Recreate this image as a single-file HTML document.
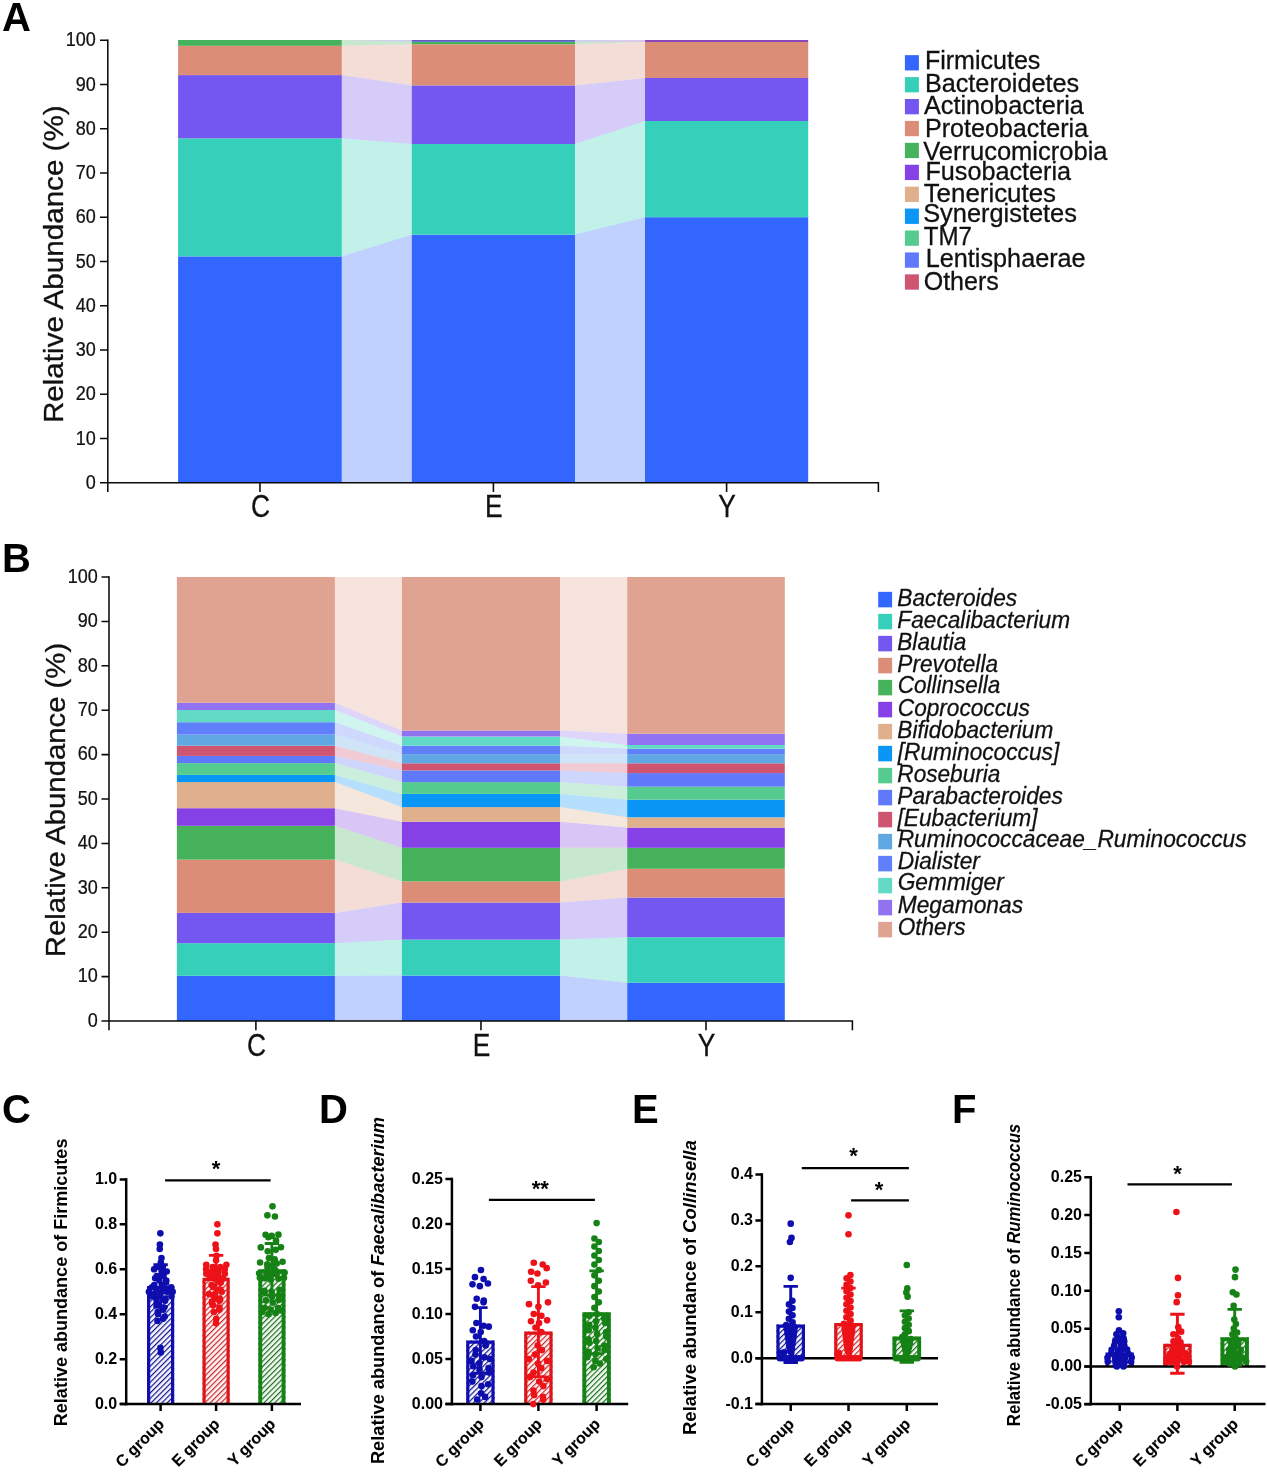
<!DOCTYPE html>
<html lang="en"><head><meta charset="utf-8"><title>Figure: gut microbiota composition</title>
<style>html,body{margin:0;padding:0;background:#fff}svg{display:block}text{font-family:"Liberation Sans",sans-serif}</style>
</head><body>
<svg width="1267" height="1472" viewBox="0 0 1267 1472">
<rect width="1267" height="1472" fill="#fff"/>
<g id="panelA">
<path d="M341.8 482.8L411.8 482.8L411.8 234.6L341.8 256.4Z" fill="#3366FF" fill-opacity="0.3"/>
<path d="M341.8 256.4L411.8 234.6L411.8 144L341.8 138.3Z" fill="#36D0BA" fill-opacity="0.3"/>
<path d="M341.8 138.3L411.8 144L411.8 85.4L341.8 75.1Z" fill="#7357F0" fill-opacity="0.3"/>
<path d="M341.8 75.1L411.8 85.4L411.8 44.3L341.8 45.8Z" fill="#DB8D77" fill-opacity="0.3"/>
<path d="M341.8 45.8L411.8 44.3L411.8 41.8L341.8 40Z" fill="#47B25C" fill-opacity="0.3"/>
<path d="M341.8 40L411.8 41.8L411.8 40L341.8 40Z" fill="#5C5CC4" fill-opacity="0.3"/>
<path d="M575 482.8L645 482.8L645 217.2L575 234.6Z" fill="#3366FF" fill-opacity="0.3"/>
<path d="M575 234.6L645 217.2L645 121L575 144Z" fill="#36D0BA" fill-opacity="0.3"/>
<path d="M575 144L645 121L645 78L575 85.4Z" fill="#7357F0" fill-opacity="0.3"/>
<path d="M575 85.4L645 78L645 42L575 44.3Z" fill="#DB8D77" fill-opacity="0.3"/>
<path d="M575 44.3L645 42L645 42L575 41.8Z" fill="#47B25C" fill-opacity="0.3"/>
<path d="M575 41.8L645 42L645 40L575 41.8Z" fill="#8B48B8" fill-opacity="0.3"/>
<path d="M575 41.8L645 40L645 40L575 40Z" fill="#5C5CC4" fill-opacity="0.3"/>
<rect x="178.1" y="256.4" width="163.7" height="226.4" fill="#3366FF"/>
<rect x="178.1" y="138.3" width="163.7" height="118.1" fill="#36D0BA"/>
<rect x="178.1" y="75.1" width="163.7" height="63.2" fill="#7357F0"/>
<rect x="178.1" y="45.8" width="163.7" height="29.3" fill="#DB8D77"/>
<rect x="178.1" y="40" width="163.7" height="5.8" fill="#47B25C"/>
<rect x="411.8" y="234.6" width="163.2" height="248.2" fill="#3366FF"/>
<rect x="411.8" y="144" width="163.2" height="90.6" fill="#36D0BA"/>
<rect x="411.8" y="85.4" width="163.2" height="58.6" fill="#7357F0"/>
<rect x="411.8" y="44.3" width="163.2" height="41.1" fill="#DB8D77"/>
<rect x="411.8" y="41.8" width="163.2" height="2.5" fill="#47B25C"/>
<rect x="411.8" y="40" width="163.2" height="1.8" fill="#5C5CC4"/>
<rect x="645" y="217.2" width="163.2" height="265.6" fill="#3366FF"/>
<rect x="645" y="121" width="163.2" height="96.2" fill="#36D0BA"/>
<rect x="645" y="78" width="163.2" height="43" fill="#7357F0"/>
<rect x="645" y="42" width="163.2" height="36" fill="#DB8D77"/>
<rect x="645" y="40" width="163.2" height="2" fill="#8B48B8"/>
<g stroke="#0a0a0a" stroke-width="1.55" fill="none">
<path d="M107.8 39.5V492"/>
<path d="M100 482.8H878.4V492"/>
<path d="M100 438.54H107.8M100 394.28H107.8M100 350.02H107.8M100 305.76H107.8M100 261.5H107.8M100 217.24H107.8M100 172.98H107.8M100 128.72H107.8M100 84.46H107.8M100 40.2H107.8M259.95 482.8V492M493.4 482.8V492M726.6 482.8V492"/>
</g>
<g font-size="20.4" text-anchor="end" fill="#111" stroke="#111" stroke-width="0.25">
<text transform="translate(95.8 489) scale(0.885 1)">0</text>
<text transform="translate(95.8 444.74) scale(0.885 1)">10</text>
<text transform="translate(95.8 400.48) scale(0.885 1)">20</text>
<text transform="translate(95.8 356.22) scale(0.885 1)">30</text>
<text transform="translate(95.8 311.96) scale(0.885 1)">40</text>
<text transform="translate(95.8 267.7) scale(0.885 1)">50</text>
<text transform="translate(95.8 223.44) scale(0.885 1)">60</text>
<text transform="translate(95.8 179.18) scale(0.885 1)">70</text>
<text transform="translate(95.8 134.92) scale(0.885 1)">80</text>
<text transform="translate(95.8 90.66) scale(0.885 1)">90</text>
<text transform="translate(95.8 46.4) scale(0.885 1)">100</text>
</g>
<g font-size="31" text-anchor="middle" fill="#111" stroke="#111" stroke-width="0.3">
<text transform="translate(260.45 517.2) scale(0.85 1)">C</text>
<text transform="translate(493.9 517.2) scale(0.85 1)">E</text>
<text transform="translate(727.1 517.2) scale(0.85 1)">Y</text>
</g>
<text transform="translate(62.8 264.2) rotate(-90) scale(1.0509 1)" font-size="28.2" text-anchor="middle" fill="#111" stroke="#111" stroke-width="0.3">Relative Abundance (%)</text>
<text x="2" y="30.8" font-size="40" font-weight="bold" fill="#000">A</text>
<g font-size="25.5" fill="#111" stroke="#111" stroke-width="0.3">
<rect x="904.9" y="55.15" width="14" height="15.3" fill="#3366FF" stroke="none"/>
<text transform="translate(924.89 68.6) scale(0.9828 1)">Firmicutes</text>
<rect x="904.9" y="77.07" width="14" height="15.3" fill="#36D0BA" stroke="none"/>
<text transform="translate(924.89 91.7) scale(0.9895 1)">Bacteroidetes</text>
<rect x="904.9" y="98.99" width="14" height="15.3" fill="#7357F0" stroke="none"/>
<text transform="translate(924.02 113.8) scale(0.9894 1)">Actinobacteria</text>
<rect x="904.9" y="120.91" width="14" height="15.3" fill="#DB8D77" stroke="none"/>
<text transform="translate(924.89 136.9) scale(0.9845 1)">Proteobacteria</text>
<rect x="904.9" y="142.83" width="14" height="15.3" fill="#47B25C" stroke="none"/>
<text transform="translate(923.15 159.8) scale(1.0011 1)">Verrucomicrobia</text>
<rect x="904.9" y="164.75" width="14" height="15.3" fill="#8540E6" stroke="none"/>
<text transform="translate(925.41 179.8) scale(0.9888 1)">Fusobacteria</text>
<rect x="904.9" y="186.67" width="14" height="15.3" fill="#E0B08C" stroke="none"/>
<text transform="translate(923.67 201.8) scale(1.0151 1)">Tenericutes</text>
<rect x="904.9" y="208.59" width="14" height="15.3" fill="#0A96F5" stroke="none"/>
<text transform="translate(923.15 222.3) scale(0.9953 1)">Synergistetes</text>
<rect x="904.9" y="230.51" width="14" height="15.3" fill="#55CB8F" stroke="none"/>
<text transform="translate(923.67 245.2) scale(0.9451 1)">TM7</text>
<rect x="904.9" y="252.43" width="14" height="15.3" fill="#6078FA" stroke="none"/>
<text transform="translate(925.76 266.6) scale(0.9894 1)">Lentisphaerae</text>
<rect x="904.9" y="274.35" width="14" height="15.3" fill="#CE5470" stroke="none"/>
<text transform="translate(923.67 289.7) scale(0.9817 1)">Others</text>
</g>
</g>
<g id="panelB">
<path d="M334.9 1021L401.9 1021L401.9 975.6L334.9 975.8Z" fill="#3366FF" fill-opacity="0.3"/>
<path d="M334.9 975.8L401.9 975.6L401.9 939.6L334.9 943.2Z" fill="#36D0BA" fill-opacity="0.3"/>
<path d="M334.9 943.2L401.9 939.6L401.9 902.6L334.9 912.9Z" fill="#7357F0" fill-opacity="0.3"/>
<path d="M334.9 912.9L401.9 902.6L401.9 881.4L334.9 859.6Z" fill="#DB8D77" fill-opacity="0.3"/>
<path d="M334.9 859.6L401.9 881.4L401.9 847.8L334.9 825.8Z" fill="#47B25C" fill-opacity="0.3"/>
<path d="M334.9 825.8L401.9 847.8L401.9 821.7L334.9 808.2Z" fill="#8540E6" fill-opacity="0.3"/>
<path d="M334.9 808.2L401.9 821.7L401.9 807.1L334.9 782.1Z" fill="#E0B08C" fill-opacity="0.3"/>
<path d="M334.9 782.1L401.9 807.1L401.9 793.9L334.9 774.9Z" fill="#0A96F5" fill-opacity="0.3"/>
<path d="M334.9 774.9L401.9 793.9L401.9 782.1L334.9 763.1Z" fill="#55CB8F" fill-opacity="0.3"/>
<path d="M334.9 763.1L401.9 782.1L401.9 770.4L334.9 755.9Z" fill="#6078FA" fill-opacity="0.3"/>
<path d="M334.9 755.9L401.9 770.4L401.9 763.3L334.9 745.7Z" fill="#CE5470" fill-opacity="0.3"/>
<path d="M334.9 745.7L401.9 763.3L401.9 754.1L334.9 734.6Z" fill="#5FA8E4" fill-opacity="0.3"/>
<path d="M334.9 734.6L401.9 754.1L401.9 745.7L334.9 722.2Z" fill="#5F80FA" fill-opacity="0.3"/>
<path d="M334.9 722.2L401.9 745.7L401.9 736.5L334.9 710Z" fill="#62DAC6" fill-opacity="0.3"/>
<path d="M334.9 710L401.9 736.5L401.9 730.5L334.9 702.8Z" fill="#9173F2" fill-opacity="0.3"/>
<path d="M334.9 702.8L401.9 730.5L401.9 577L334.9 577Z" fill="#E0A391" fill-opacity="0.3"/>
<path d="M560 1021L627.2 1021L627.2 982.8L560 975.6Z" fill="#3366FF" fill-opacity="0.3"/>
<path d="M560 975.6L627.2 982.8L627.2 937.2L560 939.6Z" fill="#36D0BA" fill-opacity="0.3"/>
<path d="M560 939.6L627.2 937.2L627.2 897.5L560 902.6Z" fill="#7357F0" fill-opacity="0.3"/>
<path d="M560 902.6L627.2 897.5L627.2 868.8L560 881.4Z" fill="#DB8D77" fill-opacity="0.3"/>
<path d="M560 881.4L627.2 868.8L627.2 847.8L560 847.8Z" fill="#47B25C" fill-opacity="0.3"/>
<path d="M560 847.8L627.2 847.8L627.2 827.6L560 821.7Z" fill="#8540E6" fill-opacity="0.3"/>
<path d="M560 821.7L627.2 827.6L627.2 817.3L560 807.1Z" fill="#E0B08C" fill-opacity="0.3"/>
<path d="M560 807.1L627.2 817.3L627.2 799.7L560 793.9Z" fill="#0A96F5" fill-opacity="0.3"/>
<path d="M560 793.9L627.2 799.7L627.2 786.7L560 782.1Z" fill="#55CB8F" fill-opacity="0.3"/>
<path d="M560 782.1L627.2 786.7L627.2 773.1L560 770.4Z" fill="#6078FA" fill-opacity="0.3"/>
<path d="M560 770.4L627.2 773.1L627.2 763.3L560 763.3Z" fill="#CE5470" fill-opacity="0.3"/>
<path d="M560 763.3L627.2 763.3L627.2 754.1L560 754.1Z" fill="#5FA8E4" fill-opacity="0.3"/>
<path d="M560 754.1L627.2 754.1L627.2 748.7L560 745.7Z" fill="#5F80FA" fill-opacity="0.3"/>
<path d="M560 745.7L627.2 748.7L627.2 745L560 736.5Z" fill="#62DAC6" fill-opacity="0.3"/>
<path d="M560 736.5L627.2 745L627.2 733.7L560 730.5Z" fill="#9173F2" fill-opacity="0.3"/>
<path d="M560 730.5L627.2 733.7L627.2 577L560 577Z" fill="#E0A391" fill-opacity="0.3"/>
<rect x="176.9" y="975.8" width="158" height="45.2" fill="#3366FF"/>
<rect x="176.9" y="943.2" width="158" height="32.6" fill="#36D0BA"/>
<rect x="176.9" y="912.9" width="158" height="30.3" fill="#7357F0"/>
<rect x="176.9" y="859.6" width="158" height="53.3" fill="#DB8D77"/>
<rect x="176.9" y="825.8" width="158" height="33.8" fill="#47B25C"/>
<rect x="176.9" y="808.2" width="158" height="17.6" fill="#8540E6"/>
<rect x="176.9" y="782.1" width="158" height="26.1" fill="#E0B08C"/>
<rect x="176.9" y="774.9" width="158" height="7.2" fill="#0A96F5"/>
<rect x="176.9" y="763.1" width="158" height="11.8" fill="#55CB8F"/>
<rect x="176.9" y="755.9" width="158" height="7.2" fill="#6078FA"/>
<rect x="176.9" y="745.7" width="158" height="10.2" fill="#CE5470"/>
<rect x="176.9" y="734.6" width="158" height="11.1" fill="#5FA8E4"/>
<rect x="176.9" y="722.2" width="158" height="12.4" fill="#5F80FA"/>
<rect x="176.9" y="710" width="158" height="12.2" fill="#62DAC6"/>
<rect x="176.9" y="702.8" width="158" height="7.2" fill="#9173F2"/>
<rect x="176.9" y="577" width="158" height="125.8" fill="#E0A391"/>
<rect x="401.9" y="975.6" width="158.1" height="45.4" fill="#3366FF"/>
<rect x="401.9" y="939.6" width="158.1" height="36" fill="#36D0BA"/>
<rect x="401.9" y="902.6" width="158.1" height="37" fill="#7357F0"/>
<rect x="401.9" y="881.4" width="158.1" height="21.2" fill="#DB8D77"/>
<rect x="401.9" y="847.8" width="158.1" height="33.6" fill="#47B25C"/>
<rect x="401.9" y="821.7" width="158.1" height="26.1" fill="#8540E6"/>
<rect x="401.9" y="807.1" width="158.1" height="14.6" fill="#E0B08C"/>
<rect x="401.9" y="793.9" width="158.1" height="13.2" fill="#0A96F5"/>
<rect x="401.9" y="782.1" width="158.1" height="11.8" fill="#55CB8F"/>
<rect x="401.9" y="770.4" width="158.1" height="11.7" fill="#6078FA"/>
<rect x="401.9" y="763.3" width="158.1" height="7.1" fill="#CE5470"/>
<rect x="401.9" y="754.1" width="158.1" height="9.2" fill="#5FA8E4"/>
<rect x="401.9" y="745.7" width="158.1" height="8.4" fill="#5F80FA"/>
<rect x="401.9" y="736.5" width="158.1" height="9.2" fill="#62DAC6"/>
<rect x="401.9" y="730.5" width="158.1" height="6" fill="#9173F2"/>
<rect x="401.9" y="577" width="158.1" height="153.5" fill="#E0A391"/>
<rect x="627.2" y="982.8" width="157.6" height="38.2" fill="#3366FF"/>
<rect x="627.2" y="937.2" width="157.6" height="45.6" fill="#36D0BA"/>
<rect x="627.2" y="897.5" width="157.6" height="39.7" fill="#7357F0"/>
<rect x="627.2" y="868.8" width="157.6" height="28.7" fill="#DB8D77"/>
<rect x="627.2" y="847.8" width="157.6" height="21" fill="#47B25C"/>
<rect x="627.2" y="827.6" width="157.6" height="20.2" fill="#8540E6"/>
<rect x="627.2" y="817.3" width="157.6" height="10.3" fill="#E0B08C"/>
<rect x="627.2" y="799.7" width="157.6" height="17.6" fill="#0A96F5"/>
<rect x="627.2" y="786.7" width="157.6" height="13" fill="#55CB8F"/>
<rect x="627.2" y="773.1" width="157.6" height="13.6" fill="#6078FA"/>
<rect x="627.2" y="763.3" width="157.6" height="9.8" fill="#CE5470"/>
<rect x="627.2" y="754.1" width="157.6" height="9.2" fill="#5FA8E4"/>
<rect x="627.2" y="748.7" width="157.6" height="5.4" fill="#5F80FA"/>
<rect x="627.2" y="745" width="157.6" height="3.7" fill="#62DAC6"/>
<rect x="627.2" y="733.7" width="157.6" height="11.3" fill="#9173F2"/>
<rect x="627.2" y="577" width="157.6" height="156.7" fill="#E0A391"/>
<g stroke="#0a0a0a" stroke-width="1.55" fill="none">
<path d="M109 576.3V1030.2"/>
<path d="M101.5 1021H852.4V1030.2"/>
<path d="M101.5 976.6H109M101.5 932.2H109M101.5 887.8H109M101.5 843.4H109M101.5 799H109M101.5 754.6H109M101.5 710.2H109M101.5 665.8H109M101.5 621.4H109M101.5 577H109M255.9 1021V1030.2M480.95 1021V1030.2M706 1021V1030.2"/>
</g>
<g font-size="20.4" text-anchor="end" fill="#111" stroke="#111" stroke-width="0.25">
<text transform="translate(97.9 1026.7) scale(0.885 1)">0</text>
<text transform="translate(97.9 982.3) scale(0.885 1)">10</text>
<text transform="translate(97.9 937.9) scale(0.885 1)">20</text>
<text transform="translate(97.9 893.5) scale(0.885 1)">30</text>
<text transform="translate(97.9 849.1) scale(0.885 1)">40</text>
<text transform="translate(97.9 804.7) scale(0.885 1)">50</text>
<text transform="translate(97.9 760.3) scale(0.885 1)">60</text>
<text transform="translate(97.9 715.9) scale(0.885 1)">70</text>
<text transform="translate(97.9 671.5) scale(0.885 1)">80</text>
<text transform="translate(97.9 627.1) scale(0.885 1)">90</text>
<text transform="translate(97.9 582.7) scale(0.885 1)">100</text>
</g>
<g font-size="31" text-anchor="middle" fill="#111" stroke="#111" stroke-width="0.3">
<text transform="translate(256.4 1055.5) scale(0.85 1)">C</text>
<text transform="translate(481.45 1055.5) scale(0.85 1)">E</text>
<text transform="translate(706.5 1055.5) scale(0.85 1)">Y</text>
</g>
<text transform="translate(65.2 800) rotate(-90) scale(1.0390 1)" font-size="28.2" text-anchor="middle" fill="#111" stroke="#111" stroke-width="0.3">Relative Abundance (%)</text>
<text x="2" y="571.5" font-size="40" font-weight="bold" fill="#000">B</text>
<g font-size="24.6" fill="#111" stroke="#111" stroke-width="0.3" font-style="italic">
<rect x="878.2" y="591.85" width="13.9" height="15.5" fill="#3366FF" stroke="none"/>
<text transform="translate(897.3 606) scale(0.9231 1)">Bacteroides</text>
<rect x="878.2" y="613.85" width="13.9" height="15.5" fill="#36D0BA" stroke="none"/>
<text transform="translate(897.3 628.1) scale(0.9230 1)">Faecalibacterium</text>
<rect x="878.2" y="635.85" width="13.9" height="15.5" fill="#7357F0" stroke="none"/>
<text transform="translate(897.3 650) scale(0.9187 1)">Blautia</text>
<rect x="878.2" y="657.85" width="13.9" height="15.5" fill="#DB8D77" stroke="none"/>
<text transform="translate(897.3 671.5) scale(0.9213 1)">Prevotella</text>
<rect x="878.2" y="679.85" width="13.9" height="15.5" fill="#47B25C" stroke="none"/>
<text transform="translate(897.8 692.9) scale(0.9151 1)">Collinsella</text>
<rect x="878.2" y="701.85" width="13.9" height="15.5" fill="#8540E6" stroke="none"/>
<text transform="translate(897.8 716) scale(0.9203 1)">Coprococcus</text>
<rect x="878.2" y="723.85" width="13.9" height="15.5" fill="#E0B08C" stroke="none"/>
<text transform="translate(897.3 737.7) scale(0.9206 1)">Bifidobacterium</text>
<rect x="878.2" y="745.85" width="13.9" height="15.5" fill="#0A96F5" stroke="none"/>
<text transform="translate(897.75 759.5) scale(0.9235 1)">[Ruminococcus]</text>
<rect x="878.2" y="767.85" width="13.9" height="15.5" fill="#55CB8F" stroke="none"/>
<text transform="translate(897.3 781.5) scale(0.9196 1)">Roseburia</text>
<rect x="878.2" y="789.85" width="13.9" height="15.5" fill="#6078FA" stroke="none"/>
<text transform="translate(897.3 803.7) scale(0.9244 1)">Parabacteroides</text>
<rect x="878.2" y="811.85" width="13.9" height="15.5" fill="#CE5470" stroke="none"/>
<text transform="translate(897.55 825.7) scale(0.9236 1)">[Eubacterium]</text>
<rect x="878.2" y="833.85" width="13.9" height="15.5" fill="#5FA8E4" stroke="none"/>
<text transform="translate(897.7 847) scale(0.9246 1)">Ruminococcaceae_Ruminococcus</text>
<rect x="878.2" y="855.85" width="13.9" height="15.5" fill="#5F80FA" stroke="none"/>
<text transform="translate(897.7 868.9) scale(0.9261 1)">Dialister</text>
<rect x="878.2" y="877.85" width="13.9" height="15.5" fill="#62DAC6" stroke="none"/>
<text transform="translate(897.7 890.3) scale(0.9241 1)">Gemmiger</text>
<rect x="878.2" y="899.85" width="13.9" height="15.5" fill="#9173F2" stroke="none"/>
<text transform="translate(897.7 912.8) scale(0.9264 1)">Megamonas</text>
<rect x="878.2" y="921.85" width="13.9" height="15.5" fill="#E0A391" stroke="none"/>
<text transform="translate(897.7 934.8) scale(0.9187 1)">Others</text>
</g>
</g>
<g id="panelC">
<pattern id="hc0" width="3.8" height="3.8" patternUnits="userSpaceOnUse" patternTransform="rotate(-45)"><rect width="3.8" height="3.8" fill="#F6F6FF"/><rect x="0" y="0" width="3.8" height="1.2" fill="#14148C"/></pattern>
<pattern id="hc1" width="3.8" height="3.8" patternUnits="userSpaceOnUse" patternTransform="rotate(-45)"><rect width="3.8" height="3.8" fill="#FFF4F4"/><rect x="0" y="0" width="3.8" height="1.2" fill="#C82830"/></pattern>
<pattern id="hc2" width="3.8" height="3.8" patternUnits="userSpaceOnUse" patternTransform="rotate(-45)"><rect width="3.8" height="3.8" fill="#F3FCF3"/><rect x="0" y="0" width="3.8" height="1.2" fill="#1C6C1C"/></pattern>
<rect x="147" y="1285.91" width="27.2" height="118.19" fill="url(#hc0)"/>
<path d="M148.6 1404.1V1287.51H172.6V1404.1" fill="none" stroke="#100EB2" stroke-width="3.2"/>
<rect x="202.5" y="1277.82" width="27.2" height="126.28" fill="url(#hc1)"/>
<path d="M204.1 1404.1V1279.42H228.1V1404.1" fill="none" stroke="#DE1419" stroke-width="3.2"/>
<rect x="258.3" y="1269.28" width="27.2" height="134.82" fill="url(#hc2)"/>
<path d="M260.25 1404.1V1271.23H283.55V1404.1" fill="none" stroke="#148214" stroke-width="3.9"/>
<g stroke="#000" stroke-width="2.5" fill="none">
<path d="M126.2 1178.15V1405.35"/>
<path d="M119.7 1404.1H301"/>
<path d="M119.7 1404.1H126.2M119.7 1359.16H126.2M119.7 1314.22H126.2M119.7 1269.28H126.2M119.7 1224.34H126.2M119.7 1179.4H126.2M160.6 1404.1V1411.1M216.1 1404.1V1411.1M271.9 1404.1V1411.1"/>
</g>
<path d="M160.6 1264.79V1307.03M153.4 1264.79H167.8M153.4 1307.03H167.8" stroke="#0E0EAE" stroke-width="2.9" fill="none"/>
<path d="M216.1 1255.35V1300.29M208.9 1255.35H223.3M208.9 1300.29H223.3" stroke="#EC1218" stroke-width="2.9" fill="none"/>
<path d="M271.9 1243.44V1295.12M264.7 1243.44H279.1M264.7 1295.12H279.1" stroke="#168216" stroke-width="2.9" fill="none"/>
<g fill="#0E0EAE"><circle cx="160.79" cy="1352.42" r="3.3"/><circle cx="160.42" cy="1347.92" r="3.3"/><circle cx="157.5" cy="1320.96" r="3.3"/><circle cx="163.14" cy="1318.71" r="3.3"/><circle cx="164.71" cy="1316.47" r="3.3"/><circle cx="158.14" cy="1314.22" r="3.3"/><circle cx="157.7" cy="1311.97" r="3.3"/><circle cx="163.02" cy="1309.73" r="3.3"/><circle cx="163.95" cy="1307.48" r="3.3"/><circle cx="156.85" cy="1305.23" r="3.3"/><circle cx="156.65" cy="1302.98" r="3.3"/><circle cx="165.08" cy="1300.74" r="3.3"/><circle cx="165.19" cy="1298.49" r="3.3"/><circle cx="156.12" cy="1298.49" r="3.3"/><circle cx="171.44" cy="1296.24" r="3.3"/><circle cx="150.97" cy="1296.24" r="3.3"/><circle cx="160.29" cy="1294" r="3.3"/><circle cx="154.24" cy="1294" r="3.3"/><circle cx="166.85" cy="1291.75" r="3.3"/><circle cx="148.89" cy="1291.75" r="3.3"/><circle cx="172.68" cy="1291.75" r="3.3"/><circle cx="164.32" cy="1289.5" r="3.3"/><circle cx="156.35" cy="1289.5" r="3.3"/><circle cx="171.2" cy="1287.26" r="3.3"/><circle cx="151.95" cy="1287.26" r="3.3"/><circle cx="161.82" cy="1285.01" r="3.3"/><circle cx="154.29" cy="1285.01" r="3.3"/><circle cx="166.02" cy="1282.76" r="3.3"/><circle cx="159.31" cy="1280.52" r="3.3"/><circle cx="166.25" cy="1280.52" r="3.3"/><circle cx="155.15" cy="1278.27" r="3.3"/><circle cx="156.79" cy="1276.02" r="3.3"/><circle cx="163.55" cy="1276.02" r="3.3"/><circle cx="161.64" cy="1271.53" r="3.3"/><circle cx="166.72" cy="1271.53" r="3.3"/><circle cx="154.13" cy="1269.28" r="3.3"/><circle cx="157.13" cy="1267.03" r="3.3"/><circle cx="162.77" cy="1267.03" r="3.3"/><circle cx="160.82" cy="1262.54" r="3.3"/><circle cx="161.49" cy="1258.05" r="3.3"/><circle cx="159.71" cy="1249.06" r="3.3"/><circle cx="159.88" cy="1244.56" r="3.3"/><circle cx="160.37" cy="1233.33" r="3.3"/></g>
<g fill="#EC1218"><circle cx="215.98" cy="1323.21" r="3.3"/><circle cx="216.26" cy="1318.71" r="3.3"/><circle cx="213.9" cy="1311.97" r="3.3"/><circle cx="219.31" cy="1309.73" r="3.3"/><circle cx="219.42" cy="1307.48" r="3.3"/><circle cx="213.03" cy="1305.23" r="3.3"/><circle cx="211.98" cy="1302.98" r="3.3"/><circle cx="219.43" cy="1300.74" r="3.3"/><circle cx="219.74" cy="1298.49" r="3.3"/><circle cx="213.56" cy="1296.24" r="3.3"/><circle cx="215.04" cy="1294" r="3.3"/><circle cx="208.99" cy="1294" r="3.3"/><circle cx="221.64" cy="1291.75" r="3.3"/><circle cx="220.21" cy="1289.5" r="3.3"/><circle cx="213.3" cy="1287.26" r="3.3"/><circle cx="211.61" cy="1285.01" r="3.3"/><circle cx="220.65" cy="1282.76" r="3.3"/><circle cx="217.31" cy="1280.52" r="3.3"/><circle cx="223.1" cy="1278.27" r="3.3"/><circle cx="209.8" cy="1278.27" r="3.3"/><circle cx="211.91" cy="1276.02" r="3.3"/><circle cx="218.14" cy="1276.02" r="3.3"/><circle cx="206.27" cy="1273.77" r="3.3"/><circle cx="224.85" cy="1273.77" r="3.3"/><circle cx="218.59" cy="1271.53" r="3.3"/><circle cx="212.13" cy="1271.53" r="3.3"/><circle cx="224.78" cy="1269.28" r="3.3"/><circle cx="206.11" cy="1269.28" r="3.3"/><circle cx="212.65" cy="1267.03" r="3.3"/><circle cx="220.29" cy="1267.03" r="3.3"/><circle cx="206.25" cy="1264.79" r="3.3"/><circle cx="226.36" cy="1264.79" r="3.3"/><circle cx="216.1" cy="1260.29" r="3.3"/><circle cx="216.52" cy="1255.8" r="3.3"/><circle cx="215.99" cy="1249.06" r="3.3"/><circle cx="215.52" cy="1244.56" r="3.3"/><circle cx="217.39" cy="1233.33" r="3.3"/><circle cx="217.39" cy="1224.34" r="3.3"/></g>
<g fill="#168216"><circle cx="268.53" cy="1314.13" r="3.3"/><circle cx="275.61" cy="1312.91" r="3.3"/><circle cx="262.43" cy="1311.96" r="3.3"/><circle cx="280.87" cy="1310.53" r="3.3"/><circle cx="270.63" cy="1309.66" r="3.3"/><circle cx="278.17" cy="1308.01" r="3.3"/><circle cx="264.71" cy="1307.73" r="3.3"/><circle cx="272.71" cy="1302.6" r="3.3"/><circle cx="265.8" cy="1300.41" r="3.3"/><circle cx="278.76" cy="1299.96" r="3.3"/><circle cx="272.05" cy="1296.77" r="3.3"/><circle cx="278.92" cy="1295.77" r="3.3"/><circle cx="264.38" cy="1292.84" r="3.3"/><circle cx="271.74" cy="1291.96" r="3.3"/><circle cx="264.42" cy="1290.8" r="3.3"/><circle cx="279.56" cy="1289.84" r="3.3"/><circle cx="270.75" cy="1279.71" r="3.3"/><circle cx="278.53" cy="1278.75" r="3.3"/><circle cx="264.99" cy="1278.35" r="3.3"/><circle cx="283.99" cy="1277.81" r="3.3"/><circle cx="259.88" cy="1277.68" r="3.3"/><circle cx="271.65" cy="1274.92" r="3.3"/><circle cx="266.99" cy="1274.26" r="3.3"/><circle cx="276.45" cy="1273.93" r="3.3"/><circle cx="259.16" cy="1273.35" r="3.3"/><circle cx="284.58" cy="1272.6" r="3.3"/><circle cx="275.22" cy="1270.06" r="3.3"/><circle cx="267.54" cy="1267.83" r="3.3"/><circle cx="273.17" cy="1265.55" r="3.3"/><circle cx="267.26" cy="1264.39" r="3.3"/><circle cx="276.69" cy="1263.55" r="3.3"/><circle cx="260.1" cy="1262.45" r="3.3"/><circle cx="282.55" cy="1261.76" r="3.3"/><circle cx="274.71" cy="1259.25" r="3.3"/><circle cx="268.92" cy="1258.09" r="3.3"/><circle cx="267.73" cy="1251.2" r="3.3"/><circle cx="275.71" cy="1249.85" r="3.3"/><circle cx="260.83" cy="1247.38" r="3.3"/><circle cx="280.95" cy="1247.2" r="3.3"/><circle cx="276.02" cy="1240.58" r="3.3"/><circle cx="268.34" cy="1237.3" r="3.3"/><circle cx="271.69" cy="1235.89" r="3.3"/><circle cx="265.55" cy="1234.8" r="3.3"/><circle cx="278.44" cy="1234.64" r="3.3"/><circle cx="274.9" cy="1216.48" r="3.3"/><circle cx="267.38" cy="1215.35" r="3.3"/><circle cx="272.49" cy="1206.36" r="3.3"/></g>
<g font-size="16" font-weight="bold" text-anchor="end" fill="#000">
<text x="117.2" y="1408.9">0.0</text>
<text x="117.2" y="1363.96">0.2</text>
<text x="117.2" y="1319.02">0.4</text>
<text x="117.2" y="1274.08">0.6</text>
<text x="117.2" y="1229.14">0.8</text>
<text x="117.2" y="1184.2">1.0</text>
</g>
<g font-size="15.9" font-weight="bold" text-anchor="end" fill="#000" stroke="#000" stroke-width="0.12">
<text transform="translate(165.1 1425.1) rotate(-45)">C group</text>
<text transform="translate(220.6 1425.1) rotate(-45)">E group</text>
<text transform="translate(276.4 1425.1) rotate(-45)">Y group</text>
</g>
<text transform="translate(67.3 1282.4) rotate(-90) scale(0.9867 1)" font-size="18.3" font-weight="bold" text-anchor="middle" fill="#000">Relative abundance of Firmicutes</text>
<text x="2" y="1122.8" font-size="40" font-weight="bold" fill="#000">C</text>
<path d="M165.1 1180.3H270.6" stroke="#000" stroke-width="2.2"/>
<text x="216" y="1176" font-size="22" font-weight="bold" text-anchor="middle" fill="#000">*</text>
</g>
<g id="panelD">
<pattern id="hd0" width="3.8" height="3.8" patternUnits="userSpaceOnUse" patternTransform="rotate(-45)"><rect width="3.8" height="3.8" fill="#F6F6FF"/><rect x="0" y="0" width="3.8" height="1.2" fill="#14148C"/></pattern>
<pattern id="hd1" width="3.8" height="3.8" patternUnits="userSpaceOnUse" patternTransform="rotate(-45)"><rect width="3.8" height="3.8" fill="#FFF4F4"/><rect x="0" y="0" width="3.8" height="1.2" fill="#C82830"/></pattern>
<pattern id="hd2" width="3.8" height="3.8" patternUnits="userSpaceOnUse" patternTransform="rotate(-45)"><rect width="3.8" height="3.8" fill="#F3FCF3"/><rect x="0" y="0" width="3.8" height="1.2" fill="#1C6C1C"/></pattern>
<rect x="466.2" y="1340.44" width="28.4" height="63.66" fill="url(#hd0)"/>
<path d="M467.8 1404.1V1342.04H493V1404.1" fill="none" stroke="#100EB2" stroke-width="3.2"/>
<rect x="524.2" y="1331.62" width="28.4" height="72.48" fill="url(#hd1)"/>
<path d="M525.8 1404.1V1333.22H551V1404.1" fill="none" stroke="#DE1419" stroke-width="3.2"/>
<rect x="582.4" y="1312.26" width="28.4" height="91.84" fill="url(#hd2)"/>
<path d="M584.35 1404.1V1314.21H608.85V1404.1" fill="none" stroke="#148214" stroke-width="3.9"/>
<g stroke="#000" stroke-width="2.5" fill="none">
<path d="M451.9 1177.75V1405.35"/>
<path d="M445.4 1404.1H628.2"/>
<path d="M445.4 1404.1H451.9M445.4 1359.08H451.9M445.4 1314.06H451.9M445.4 1269.04H451.9M445.4 1224.02H451.9M445.4 1179H451.9M480.4 1404.1V1411.1M538.4 1404.1V1411.1M596.6 1404.1V1411.1"/>
</g>
<path d="M480.4 1307.58V1373.31M473.2 1307.58H487.6M473.2 1373.31H487.6" stroke="#0E0EAE" stroke-width="2.9" fill="none"/>
<path d="M538.4 1286.6V1376.64M531.2 1286.6H545.6M531.2 1376.64H545.6" stroke="#EC1218" stroke-width="2.9" fill="none"/>
<path d="M596.6 1270.84V1353.68M589.4 1270.84H603.8M589.4 1353.68H603.8" stroke="#168216" stroke-width="2.9" fill="none"/>
<g fill="#0E0EAE"><circle cx="477.25" cy="1399.6" r="3.3"/><circle cx="485.08" cy="1396.9" r="3.3"/><circle cx="481.09" cy="1393.3" r="3.3"/><circle cx="481.45" cy="1386.09" r="3.3"/><circle cx="488.18" cy="1384.29" r="3.3"/><circle cx="472.35" cy="1381.59" r="3.3"/><circle cx="481.45" cy="1377.09" r="3.3"/><circle cx="472.97" cy="1375.29" r="3.3"/><circle cx="488.99" cy="1372.59" r="3.3"/><circle cx="479.54" cy="1369.88" r="3.3"/><circle cx="488.57" cy="1368.08" r="3.3"/><circle cx="473.28" cy="1366.28" r="3.3"/><circle cx="479.37" cy="1363.58" r="3.3"/><circle cx="471.53" cy="1360.88" r="3.3"/><circle cx="489.97" cy="1359.08" r="3.3"/><circle cx="484.47" cy="1357.28" r="3.3"/><circle cx="475.44" cy="1354.58" r="3.3"/><circle cx="475.72" cy="1350.08" r="3.3"/><circle cx="485.66" cy="1345.57" r="3.3"/><circle cx="484.17" cy="1341.07" r="3.3"/><circle cx="476.01" cy="1336.57" r="3.3"/><circle cx="480.73" cy="1332.07" r="3.3"/><circle cx="472.79" cy="1330.27" r="3.3"/><circle cx="488.78" cy="1326.67" r="3.3"/><circle cx="483.51" cy="1325.77" r="3.3"/><circle cx="476.39" cy="1323.06" r="3.3"/><circle cx="474.99" cy="1306.86" r="3.3"/><circle cx="483.55" cy="1302.35" r="3.3"/><circle cx="483.79" cy="1300.55" r="3.3"/><circle cx="476.7" cy="1298.75" r="3.3"/><circle cx="479.84" cy="1286.15" r="3.3"/><circle cx="472.49" cy="1284.35" r="3.3"/><circle cx="487.92" cy="1283.45" r="3.3"/><circle cx="483.61" cy="1278.94" r="3.3"/><circle cx="474.96" cy="1277.14" r="3.3"/><circle cx="480.94" cy="1269.94" r="3.3"/></g>
<g fill="#EC1218"><circle cx="533.33" cy="1404.1" r="3.3"/><circle cx="543.09" cy="1399.6" r="3.3"/><circle cx="542.95" cy="1396.9" r="3.3"/><circle cx="534.15" cy="1395.1" r="3.3"/><circle cx="533.46" cy="1390.59" r="3.3"/><circle cx="543.36" cy="1386.09" r="3.3"/><circle cx="539.2" cy="1381.59" r="3.3"/><circle cx="546.83" cy="1378.89" r="3.3"/><circle cx="530.01" cy="1377.09" r="3.3"/><circle cx="533.51" cy="1372.59" r="3.3"/><circle cx="541.31" cy="1368.08" r="3.3"/><circle cx="538.06" cy="1363.58" r="3.3"/><circle cx="547.02" cy="1360.88" r="3.3"/><circle cx="528.88" cy="1359.08" r="3.3"/><circle cx="534.96" cy="1354.58" r="3.3"/><circle cx="541.9" cy="1350.08" r="3.3"/><circle cx="537.71" cy="1345.57" r="3.3"/><circle cx="541.41" cy="1332.07" r="3.3"/><circle cx="535.49" cy="1327.57" r="3.3"/><circle cx="539.02" cy="1323.06" r="3.3"/><circle cx="530.98" cy="1321.26" r="3.3"/><circle cx="547.1" cy="1320.36" r="3.3"/><circle cx="541.39" cy="1315.86" r="3.3"/><circle cx="533.76" cy="1314.06" r="3.3"/><circle cx="538.39" cy="1306.86" r="3.3"/><circle cx="529" cy="1304.16" r="3.3"/><circle cx="547.98" cy="1302.35" r="3.3"/><circle cx="538.06" cy="1285.25" r="3.3"/><circle cx="545.9" cy="1282.55" r="3.3"/><circle cx="530.83" cy="1280.75" r="3.3"/><circle cx="537.42" cy="1273.54" r="3.3"/><circle cx="531.11" cy="1271.74" r="3.3"/><circle cx="546.68" cy="1268.14" r="3.3"/><circle cx="542.74" cy="1264.54" r="3.3"/><circle cx="533.79" cy="1262.74" r="3.3"/></g>
<g fill="#168216"><circle cx="596.6" cy="1223.12" r="3.3"/><circle cx="594.4" cy="1238.43" r="3.3"/><circle cx="598.8" cy="1242.03" r="3.3"/><circle cx="594.4" cy="1246.53" r="3.3"/><circle cx="598.8" cy="1251.03" r="3.3"/><circle cx="594.4" cy="1255.53" r="3.3"/><circle cx="598.8" cy="1260.04" r="3.3"/><circle cx="594.4" cy="1264.54" r="3.3"/><circle cx="598.8" cy="1269.94" r="3.3"/><circle cx="594.4" cy="1275.34" r="3.3"/><circle cx="598.8" cy="1280.75" r="3.3"/><circle cx="594.4" cy="1286.15" r="3.3"/><circle cx="598.8" cy="1291.55" r="3.3"/><circle cx="594.4" cy="1296.95" r="3.3"/><circle cx="598.8" cy="1302.35" r="3.3"/><circle cx="594.4" cy="1307.76" r="3.3"/><circle cx="593.59" cy="1367.18" r="3.3"/><circle cx="599.86" cy="1363.58" r="3.3"/><circle cx="595.36" cy="1360.88" r="3.3"/><circle cx="606.3" cy="1359.08" r="3.3"/><circle cx="587.38" cy="1357.28" r="3.3"/><circle cx="595.61" cy="1354.58" r="3.3"/><circle cx="588.59" cy="1351.88" r="3.3"/><circle cx="604.6" cy="1350.08" r="3.3"/><circle cx="597.61" cy="1348.28" r="3.3"/><circle cx="604.3" cy="1345.57" r="3.3"/><circle cx="589.39" cy="1342.87" r="3.3"/><circle cx="596.13" cy="1341.07" r="3.3"/><circle cx="588.46" cy="1339.27" r="3.3"/><circle cx="606.12" cy="1336.57" r="3.3"/><circle cx="597.08" cy="1333.87" r="3.3"/><circle cx="606.1" cy="1332.07" r="3.3"/><circle cx="588.74" cy="1330.27" r="3.3"/><circle cx="595.43" cy="1327.57" r="3.3"/><circle cx="589.19" cy="1324.86" r="3.3"/><circle cx="605.23" cy="1323.06" r="3.3"/><circle cx="596.11" cy="1321.26" r="3.3"/><circle cx="604.19" cy="1318.56" r="3.3"/><circle cx="589.11" cy="1315.86" r="3.3"/><circle cx="596.82" cy="1314.06" r="3.3"/></g>
<g font-size="16" font-weight="bold" text-anchor="end" fill="#000">
<text x="443" y="1408.9">0.00</text>
<text x="443" y="1363.88">0.05</text>
<text x="443" y="1318.86">0.10</text>
<text x="443" y="1273.84">0.15</text>
<text x="443" y="1228.82">0.20</text>
<text x="443" y="1183.8">0.25</text>
</g>
<g font-size="15.9" font-weight="bold" text-anchor="end" fill="#000" stroke="#000" stroke-width="0.12">
<text transform="translate(484.9 1425.1) rotate(-45)">C group</text>
<text transform="translate(542.9 1425.1) rotate(-45)">E group</text>
<text transform="translate(601.1 1425.1) rotate(-45)">Y group</text>
</g>
<text transform="translate(384 1290.5) rotate(-90) scale(0.9956 1)" font-size="18.3" font-weight="bold" text-anchor="middle" fill="#000">Relative abundance of <tspan font-style="italic">Faecalibacterium</tspan></text>
<text x="319" y="1122.8" font-size="40" font-weight="bold" fill="#000">D</text>
<path d="M488.9 1199.8H594.9" stroke="#000" stroke-width="2.2"/>
<text x="540.3" y="1196" font-size="22" font-weight="bold" text-anchor="middle" fill="#000">**</text>
</g>
<g id="panelE">
<pattern id="he0" width="3.8" height="3.8" patternUnits="userSpaceOnUse" patternTransform="rotate(-45)"><rect width="3.8" height="3.8" fill="#F6F6FF"/><rect x="0" y="0" width="3.8" height="1.2" fill="#14148C"/></pattern>
<pattern id="he1" width="3.8" height="3.8" patternUnits="userSpaceOnUse" patternTransform="rotate(-45)"><rect width="3.8" height="3.8" fill="#FFF4F4"/><rect x="0" y="0" width="3.8" height="1.2" fill="#C82830"/></pattern>
<pattern id="he2" width="3.8" height="3.8" patternUnits="userSpaceOnUse" patternTransform="rotate(-45)"><rect width="3.8" height="3.8" fill="#F3FCF3"/><rect x="0" y="0" width="3.8" height="1.2" fill="#1C6C1C"/></pattern>
<rect x="776.4" y="1324.45" width="28.6" height="33.75" fill="url(#he0)"/>
<path d="M778 1358.2V1326.05H803.4V1358.2" fill="none" stroke="#100EB2" stroke-width="3.2"/>
<rect x="834.2" y="1323.07" width="28.6" height="35.13" fill="url(#he1)"/>
<path d="M835.8 1358.2V1324.67H861.2V1358.2" fill="none" stroke="#DE1419" stroke-width="3.2"/>
<rect x="892.5" y="1336.62" width="28.6" height="21.58" fill="url(#he2)"/>
<path d="M894.45 1358.2V1338.57H919.15V1358.2" fill="none" stroke="#148214" stroke-width="3.9"/>
<g stroke="#000" stroke-width="2.5" fill="none">
<path d="M761.9 1173.25V1405.35"/>
<path d="M755.4 1358.2H938"/>
<path d="M755.4 1404.1H938"/>
<path d="M755.4 1404.12H761.9M755.4 1358.2H761.9M755.4 1312.28H761.9M755.4 1266.35H761.9M755.4 1220.42H761.9M755.4 1174.5H761.9M790.7 1404.1V1411.1M848.5 1404.1V1411.1M906.8 1404.1V1411.1"/>
</g>
<path d="M790.7 1286.33V1362.56M783.5 1286.33H797.9M783.5 1362.56H797.9" stroke="#0E0EAE" stroke-width="2.9" fill="none"/>
<path d="M848.5 1288.16V1357.97M841.3 1288.16H855.7M841.3 1357.97H855.7" stroke="#EC1218" stroke-width="2.9" fill="none"/>
<path d="M906.8 1310.9V1362.33M899.6 1310.9H914M899.6 1362.33H914" stroke="#168216" stroke-width="2.9" fill="none"/>
<g fill="#0E0EAE"><circle cx="790.7" cy="1223.64" r="3.3"/><circle cx="791.5" cy="1237.88" r="3.3"/><circle cx="789.9" cy="1242.01" r="3.3"/><circle cx="790.7" cy="1277.83" r="3.3"/><circle cx="792.4" cy="1300.79" r="3.3"/><circle cx="788.97" cy="1304.39" r="3.3"/><circle cx="792.47" cy="1307.99" r="3.3"/><circle cx="788.9" cy="1311.59" r="3.3"/><circle cx="792.53" cy="1315.18" r="3.3"/><circle cx="788.83" cy="1318.78" r="3.3"/><circle cx="792.6" cy="1322.38" r="3.3"/><circle cx="786.2" cy="1325.13" r="3.3"/><circle cx="794.9" cy="1327.25" r="3.3"/><circle cx="786.8" cy="1329.37" r="3.3"/><circle cx="794.3" cy="1331.49" r="3.3"/><circle cx="787.4" cy="1333.61" r="3.3"/><circle cx="793.7" cy="1335.73" r="3.3"/><circle cx="788" cy="1337.85" r="3.3"/><circle cx="793.1" cy="1339.97" r="3.3"/><circle cx="788.6" cy="1342.09" r="3.3"/><circle cx="792.5" cy="1344.21" r="3.3"/><circle cx="789.2" cy="1346.33" r="3.3"/><circle cx="791.9" cy="1348.45" r="3.3"/><circle cx="789.8" cy="1350.57" r="3.3"/><circle cx="791.3" cy="1352.69" r="3.3"/><circle cx="779.9" cy="1358.2" r="3.3"/><circle cx="782.6" cy="1358.2" r="3.3"/><circle cx="785.3" cy="1358.2" r="3.3"/><circle cx="788" cy="1358.2" r="3.3"/><circle cx="790.7" cy="1358.2" r="3.3"/><circle cx="793.4" cy="1358.2" r="3.3"/><circle cx="796.1" cy="1358.2" r="3.3"/><circle cx="798.8" cy="1358.2" r="3.3"/><circle cx="801.5" cy="1358.2" r="3.3"/><circle cx="781.2" cy="1353.15" r="3.3"/><circle cx="784.2" cy="1352.23" r="3.3"/></g>
<g fill="#EC1218"><circle cx="848.5" cy="1215.37" r="3.3"/><circle cx="848.5" cy="1234.2" r="3.3"/><circle cx="850.4" cy="1275.08" r="3.3"/><circle cx="846.59" cy="1278.32" r="3.3"/><circle cx="850.43" cy="1281.57" r="3.3"/><circle cx="846.56" cy="1284.82" r="3.3"/><circle cx="850.46" cy="1288.07" r="3.3"/><circle cx="846.53" cy="1291.31" r="3.3"/><circle cx="850.49" cy="1294.56" r="3.3"/><circle cx="846.5" cy="1297.81" r="3.3"/><circle cx="850.51" cy="1301.06" r="3.3"/><circle cx="846.47" cy="1304.3" r="3.3"/><circle cx="850.54" cy="1307.55" r="3.3"/><circle cx="846.44" cy="1310.8" r="3.3"/><circle cx="850.57" cy="1314.05" r="3.3"/><circle cx="846.41" cy="1317.29" r="3.3"/><circle cx="850.6" cy="1320.54" r="3.3"/><circle cx="844" cy="1323.76" r="3.3"/><circle cx="852.7" cy="1325.98" r="3.3"/><circle cx="844.6" cy="1328.21" r="3.3"/><circle cx="852.1" cy="1330.43" r="3.3"/><circle cx="845.2" cy="1332.66" r="3.3"/><circle cx="851.5" cy="1334.88" r="3.3"/><circle cx="845.8" cy="1337.11" r="3.3"/><circle cx="850.9" cy="1339.34" r="3.3"/><circle cx="846.4" cy="1341.56" r="3.3"/><circle cx="850.3" cy="1343.79" r="3.3"/><circle cx="847" cy="1346.01" r="3.3"/><circle cx="849.7" cy="1348.24" r="3.3"/><circle cx="847.6" cy="1350.46" r="3.3"/><circle cx="849.1" cy="1352.69" r="3.3"/><circle cx="837.7" cy="1358.2" r="3.3"/><circle cx="840.4" cy="1358.2" r="3.3"/><circle cx="843.1" cy="1358.2" r="3.3"/><circle cx="845.8" cy="1358.2" r="3.3"/><circle cx="848.5" cy="1358.2" r="3.3"/><circle cx="851.2" cy="1358.2" r="3.3"/><circle cx="853.9" cy="1358.2" r="3.3"/><circle cx="856.6" cy="1358.2" r="3.3"/><circle cx="859.3" cy="1358.2" r="3.3"/><circle cx="839" cy="1353.15" r="3.3"/></g>
<g fill="#168216"><circle cx="906.8" cy="1264.97" r="3.3"/><circle cx="907.3" cy="1288.39" r="3.3"/><circle cx="906.3" cy="1292.53" r="3.3"/><circle cx="907.6" cy="1296.66" r="3.3"/><circle cx="908.6" cy="1312.28" r="3.3"/><circle cx="904.97" cy="1315.42" r="3.3"/><circle cx="908.66" cy="1318.57" r="3.3"/><circle cx="904.91" cy="1321.72" r="3.3"/><circle cx="908.71" cy="1324.87" r="3.3"/><circle cx="904.86" cy="1328.02" r="3.3"/><circle cx="908.77" cy="1331.17" r="3.3"/><circle cx="904.8" cy="1334.32" r="3.3"/><circle cx="902.3" cy="1337.07" r="3.3"/><circle cx="910.84" cy="1339.14" r="3.3"/><circle cx="903.22" cy="1341.21" r="3.3"/><circle cx="909.91" cy="1343.27" r="3.3"/><circle cx="904.15" cy="1345.34" r="3.3"/><circle cx="908.99" cy="1347.41" r="3.3"/><circle cx="905.07" cy="1349.47" r="3.3"/><circle cx="908.06" cy="1351.54" r="3.3"/><circle cx="906" cy="1353.61" r="3.3"/><circle cx="896" cy="1358.2" r="3.3"/><circle cx="898.7" cy="1358.2" r="3.3"/><circle cx="901.4" cy="1358.2" r="3.3"/><circle cx="904.1" cy="1358.2" r="3.3"/><circle cx="906.8" cy="1358.2" r="3.3"/><circle cx="909.5" cy="1358.2" r="3.3"/><circle cx="912.2" cy="1358.2" r="3.3"/><circle cx="914.9" cy="1358.2" r="3.3"/><circle cx="917.6" cy="1358.2" r="3.3"/></g>
<g font-size="16" font-weight="bold" text-anchor="end" fill="#000">
<text x="753" y="1408.92">-0.1</text>
<text x="753" y="1363">0.0</text>
<text x="753" y="1317.08">0.1</text>
<text x="753" y="1271.15">0.2</text>
<text x="753" y="1225.22">0.3</text>
<text x="753" y="1179.3">0.4</text>
</g>
<g font-size="15.9" font-weight="bold" text-anchor="end" fill="#000" stroke="#000" stroke-width="0.12">
<text transform="translate(795.2 1425.1) rotate(-45)">C group</text>
<text transform="translate(853 1425.1) rotate(-45)">E group</text>
<text transform="translate(911.3 1425.1) rotate(-45)">Y group</text>
</g>
<text transform="translate(696.3 1287.6) rotate(-90) scale(1.0145 1)" font-size="18.3" font-weight="bold" text-anchor="middle" fill="#000">Relative abundance of <tspan font-style="italic">Collinsella</tspan></text>
<text x="632" y="1122.8" font-size="40" font-weight="bold" fill="#000">E</text>
<path d="M801.8 1168.1H908.9" stroke="#000" stroke-width="2.2"/>
<text x="853.5" y="1163.2" font-size="22" font-weight="bold" text-anchor="middle" fill="#000">*</text>
<path d="M851.1 1200.3H908.9" stroke="#000" stroke-width="2.2"/>
<text x="879" y="1197" font-size="22" font-weight="bold" text-anchor="middle" fill="#000">*</text>
</g>
<g id="panelF">
<pattern id="hf0" width="3.8" height="3.8" patternUnits="userSpaceOnUse" patternTransform="rotate(-45)"><rect width="3.8" height="3.8" fill="#F6F6FF"/><rect x="0" y="0" width="3.8" height="1.2" fill="#14148C"/></pattern>
<pattern id="hf1" width="3.8" height="3.8" patternUnits="userSpaceOnUse" patternTransform="rotate(-45)"><rect width="3.8" height="3.8" fill="#FFF4F4"/><rect x="0" y="0" width="3.8" height="1.2" fill="#C82830"/></pattern>
<pattern id="hf2" width="3.8" height="3.8" patternUnits="userSpaceOnUse" patternTransform="rotate(-45)"><rect width="3.8" height="3.8" fill="#F3FCF3"/><rect x="0" y="0" width="3.8" height="1.2" fill="#1C6C1C"/></pattern>
<rect x="1105.5" y="1352.49" width="28.4" height="14.01" fill="url(#hf0)"/>
<path d="M1107.1 1366.5V1354.09H1132.3V1366.5" fill="none" stroke="#100EB2" stroke-width="3.2"/>
<rect x="1163.2" y="1343.78" width="28.4" height="22.72" fill="url(#hf1)"/>
<path d="M1164.8 1366.5V1345.38H1190V1366.5" fill="none" stroke="#DE1419" stroke-width="3.2"/>
<rect x="1220.5" y="1337.35" width="28.4" height="29.15" fill="url(#hf2)"/>
<path d="M1222.45 1366.5V1339.3H1246.95V1366.5" fill="none" stroke="#148214" stroke-width="3.9"/>
<g stroke="#000" stroke-width="2.5" fill="none">
<path d="M1090.8 1175.95V1405.35"/>
<path d="M1084.3 1366.5H1265.5"/>
<path d="M1084.3 1404.1H1265.5"/>
<path d="M1084.3 1404.36H1090.8M1084.3 1366.5H1090.8M1084.3 1328.64H1090.8M1084.3 1290.78H1090.8M1084.3 1252.92H1090.8M1084.3 1215.06H1090.8M1084.3 1177.2H1090.8M1119.7 1404.1V1411.1M1177.4 1404.1V1411.1M1234.7 1404.1V1411.1"/>
</g>
<path d="M1119.7 1338.86V1366.12M1112.5 1338.86H1126.9M1112.5 1366.12H1126.9" stroke="#0E0EAE" stroke-width="2.9" fill="none"/>
<path d="M1177.4 1314.25V1373.31M1170.2 1314.25H1184.6M1170.2 1373.31H1184.6" stroke="#EC1218" stroke-width="2.9" fill="none"/>
<path d="M1234.7 1309.33V1365.36M1227.5 1309.33H1241.9M1227.5 1365.36H1241.9" stroke="#168216" stroke-width="2.9" fill="none"/>
<g fill="#0E0EAE"><circle cx="1116.8" cy="1366.5" r="3.3"/><circle cx="1123.47" cy="1366.5" r="3.3"/><circle cx="1118.48" cy="1362.47" r="3.3"/><circle cx="1124.63" cy="1362.24" r="3.3"/><circle cx="1115.4" cy="1362.02" r="3.3"/><circle cx="1131.13" cy="1361.79" r="3.3"/><circle cx="1107.73" cy="1361.57" r="3.3"/><circle cx="1119.31" cy="1358.44" r="3.3"/><circle cx="1115.19" cy="1358.21" r="3.3"/><circle cx="1125.05" cy="1357.99" r="3.3"/><circle cx="1107.47" cy="1357.76" r="3.3"/><circle cx="1131.73" cy="1357.54" r="3.3"/><circle cx="1121.53" cy="1354.4" r="3.3"/><circle cx="1117.28" cy="1354.1" r="3.3"/><circle cx="1128.38" cy="1353.8" r="3.3"/><circle cx="1111.23" cy="1353.5" r="3.3"/><circle cx="1118.11" cy="1350.37" r="3.3"/><circle cx="1121.65" cy="1350.07" r="3.3"/><circle cx="1111.6" cy="1349.77" r="3.3"/><circle cx="1127.07" cy="1349.47" r="3.3"/><circle cx="1120.91" cy="1346.34" r="3.3"/><circle cx="1124.36" cy="1345.89" r="3.3"/><circle cx="1114.15" cy="1345.44" r="3.3"/><circle cx="1120.56" cy="1342.31" r="3.3"/><circle cx="1115.12" cy="1341.86" r="3.3"/><circle cx="1124.23" cy="1341.41" r="3.3"/><circle cx="1123.47" cy="1338.28" r="3.3"/><circle cx="1117.8" cy="1337.38" r="3.3"/><circle cx="1116.43" cy="1334.24" r="3.3"/><circle cx="1123.16" cy="1333.34" r="3.3"/><circle cx="1118.99" cy="1330.21" r="3.3"/><circle cx="1118.8" cy="1317.28" r="3.3"/><circle cx="1118.82" cy="1311.22" r="3.3"/></g>
<g fill="#EC1218"><circle cx="1177.09" cy="1366.5" r="3.3"/><circle cx="1176.7" cy="1362.47" r="3.3"/><circle cx="1171.03" cy="1362.24" r="3.3"/><circle cx="1183.98" cy="1362.02" r="3.3"/><circle cx="1166.6" cy="1361.79" r="3.3"/><circle cx="1188.89" cy="1361.57" r="3.3"/><circle cx="1180.33" cy="1358.44" r="3.3"/><circle cx="1174.31" cy="1358.14" r="3.3"/><circle cx="1186.37" cy="1357.84" r="3.3"/><circle cx="1169.23" cy="1357.54" r="3.3"/><circle cx="1175.34" cy="1354.4" r="3.3"/><circle cx="1180.61" cy="1354.1" r="3.3"/><circle cx="1169.91" cy="1353.8" r="3.3"/><circle cx="1185.61" cy="1353.5" r="3.3"/><circle cx="1176.5" cy="1350.37" r="3.3"/><circle cx="1182.07" cy="1349.92" r="3.3"/><circle cx="1172.4" cy="1349.47" r="3.3"/><circle cx="1173.75" cy="1346.34" r="3.3"/><circle cx="1180.59" cy="1345.44" r="3.3"/><circle cx="1180.5" cy="1342.31" r="3.3"/><circle cx="1173.46" cy="1341.41" r="3.3"/><circle cx="1178.14" cy="1338.28" r="3.3"/><circle cx="1173.4" cy="1334.24" r="3.3"/><circle cx="1181.14" cy="1331.67" r="3.3"/><circle cx="1178.29" cy="1327.13" r="3.3"/><circle cx="1176.66" cy="1302.14" r="3.3"/><circle cx="1177.99" cy="1295.32" r="3.3"/><circle cx="1178" cy="1277.91" r="3.3"/><circle cx="1176.43" cy="1212.03" r="3.3"/></g>
<g fill="#168216"><circle cx="1235.06" cy="1366.5" r="3.3"/><circle cx="1233.47" cy="1362.47" r="3.3"/><circle cx="1228.62" cy="1362.24" r="3.3"/><circle cx="1239.48" cy="1362.02" r="3.3"/><circle cx="1224.31" cy="1361.79" r="3.3"/><circle cx="1246.16" cy="1361.57" r="3.3"/><circle cx="1238.51" cy="1358.44" r="3.3"/><circle cx="1230.84" cy="1358.14" r="3.3"/><circle cx="1242.87" cy="1357.84" r="3.3"/><circle cx="1225.11" cy="1357.54" r="3.3"/><circle cx="1233.97" cy="1354.4" r="3.3"/><circle cx="1229.13" cy="1353.95" r="3.3"/><circle cx="1239.05" cy="1353.5" r="3.3"/><circle cx="1233.92" cy="1350.37" r="3.3"/><circle cx="1240.67" cy="1349.92" r="3.3"/><circle cx="1229.24" cy="1349.47" r="3.3"/><circle cx="1231.18" cy="1346.34" r="3.3"/><circle cx="1237.72" cy="1345.44" r="3.3"/><circle cx="1238.29" cy="1342.31" r="3.3"/><circle cx="1230.63" cy="1341.41" r="3.3"/><circle cx="1235.5" cy="1338.28" r="3.3"/><circle cx="1232.43" cy="1334.24" r="3.3"/><circle cx="1237.07" cy="1332.43" r="3.3"/><circle cx="1233.8" cy="1328.64" r="3.3"/><circle cx="1235.89" cy="1324.1" r="3.3"/><circle cx="1234.28" cy="1319.55" r="3.3"/><circle cx="1233.64" cy="1305.92" r="3.3"/><circle cx="1236.44" cy="1294.57" r="3.3"/><circle cx="1232.81" cy="1292.29" r="3.3"/><circle cx="1234.97" cy="1277.15" r="3.3"/><circle cx="1235.5" cy="1269.58" r="3.3"/></g>
<g font-size="16" font-weight="bold" text-anchor="end" fill="#000">
<text x="1082" y="1409.16">-0.05</text>
<text x="1082" y="1371.3">0.00</text>
<text x="1082" y="1333.44">0.05</text>
<text x="1082" y="1295.58">0.10</text>
<text x="1082" y="1257.72">0.15</text>
<text x="1082" y="1219.86">0.20</text>
<text x="1082" y="1182">0.25</text>
</g>
<g font-size="15.9" font-weight="bold" text-anchor="end" fill="#000" stroke="#000" stroke-width="0.12">
<text transform="translate(1124.2 1425.1) rotate(-45)">C group</text>
<text transform="translate(1181.9 1425.1) rotate(-45)">E group</text>
<text transform="translate(1239.2 1425.1) rotate(-45)">Y group</text>
</g>
<text transform="translate(1019.6 1275) rotate(-90) scale(0.9156 1)" font-size="18.3" font-weight="bold" text-anchor="middle" fill="#000">Relative abundance of <tspan font-style="italic">Ruminococcus</tspan></text>
<text x="952" y="1122.8" font-size="40" font-weight="bold" fill="#000">F</text>
<path d="M1127.5 1184.4H1231.9" stroke="#000" stroke-width="2.2"/>
<text x="1177.6" y="1181" font-size="22" font-weight="bold" text-anchor="middle" fill="#000">*</text>
</g>
</svg>
</body></html>
